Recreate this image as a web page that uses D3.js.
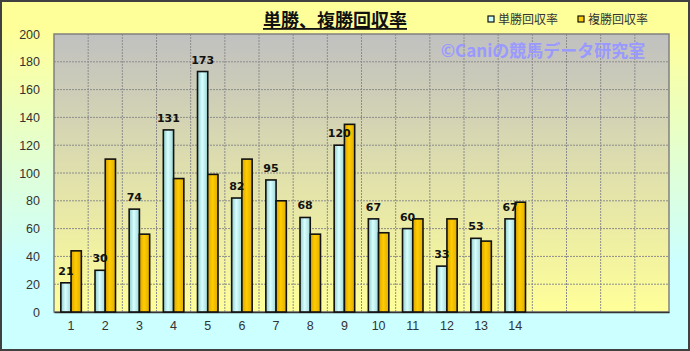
<!DOCTYPE html>
<html>
<head>
<meta charset="utf-8">
<script src="https://cdn.jsdelivr.net/npm/d3@7"></script>
<style>
  body { margin: 0; background: #fff; }
  svg text { font-family: "Noto Sans CJK JP", "Liberation Sans", sans-serif; }
</style>
</head>
<body>
<div id="grafico"></div>
<script>
// データ
const tickLabels = ["1","2","3","4","5","6","7","8","9","10","11","12","13","14","","","",""];
const tansho = [21, 30, 74, 131, 173, 82, 95, 68, 120, 67, 60, 33, 53, 67];
const fukusho = [44, 110, 56, 96, 99, 110, 80, 56, 135, 57, 67, 67, 51, 79];
const seriesNames = ["単勝回収率", "複勝回収率"];
const yTicks = [0, 20, 40, 60, 80, 100, 120, 140, 160, 180, 200];

const width = 690;
const height = 351;
const plot = { left: 54, top: 34, right: 669, bottom: 312 };

const svg = d3.select('#grafico')
    .append('svg')
    .attr('width', width)
    .attr('height', height);

const defs = svg.append('defs');

// 背景グラデーション
const bg = defs.append('linearGradient').attr('id', 'bg').attr('x1', 0).attr('y1', 0).attr('x2', 0).attr('y2', 1);
bg.append('stop').attr('offset', '8%').attr('stop-color', '#ffff99');
bg.append('stop').attr('offset', '75%').attr('stop-color', '#ccffff');

const pg = defs.append('linearGradient').attr('id', 'pg').attr('x1', 0).attr('y1', 0).attr('x2', 0).attr('y2', 1);
pg.append('stop').attr('offset', '0%').attr('stop-color', '#c0c0c0');
pg.append('stop').attr('offset', '100%').attr('stop-color', '#ffff99');

// 棒のグラデーション（横方向）
const cg = defs.append('linearGradient').attr('id', 'cg').attr('x1', 0).attr('y1', 0).attr('x2', 1).attr('y2', 0);
cg.append('stop').attr('offset', '0%').attr('stop-color', '#8fcaca');
cg.append('stop').attr('offset', '45%').attr('stop-color', '#d8ffff');
cg.append('stop').attr('offset', '100%').attr('stop-color', '#9fd6d6');

const gg = defs.append('linearGradient').attr('id', 'gg').attr('x1', 0).attr('y1', 0).attr('x2', 1).attr('y2', 0);
gg.append('stop').attr('offset', '0%').attr('stop-color', '#d9a300');
gg.append('stop').attr('offset', '45%').attr('stop-color', '#ffcc00');
gg.append('stop').attr('offset', '100%').attr('stop-color', '#e0ad00');

svg.append('rect')
    .attr('x', 1).attr('y', 1)
    .attr('width', width - 2).attr('height', height - 2)
    .attr('fill', 'url(#bg)')
    .attr('stroke', '#404040')
    .attr('stroke-width', 2);

svg.append('rect')
    .attr('x', plot.left).attr('y', plot.top)
    .attr('width', plot.right - plot.left).attr('height', plot.bottom - plot.top)
    .attr('fill', 'url(#pg)');

// スケール
const x = d3.scaleBand()
    .domain(d3.range(tickLabels.length))
    .range([plot.left, plot.right]);

const xs = d3.scaleBand()
    .domain([0, 1])
    .range([x.bandwidth() * 0.2, x.bandwidth() * 0.8]);

const y = d3.scaleLinear()
    .domain([0, 200])
    .range([plot.bottom, plot.top]);

// グリッド
svg.append('g')
    .selectAll('line')
    .data(yTicks.slice(1, -1))
    .enter()
    .append('line')
    .attr('x1', plot.left).attr('x2', plot.right)
    .attr('y1', d => y(d)).attr('y2', d => y(d))
    .attr('stroke', '#8c8c8c')
    .attr('stroke-dasharray', '2,1');

svg.append('g')
    .selectAll('line')
    .data(d3.range(1, tickLabels.length))
    .enter()
    .append('line')
    .attr('x1', d => x(d)).attr('x2', d => x(d))
    .attr('y1', plot.top).attr('y2', plot.bottom)
    .attr('stroke', '#8c8c8c')
    .attr('stroke-dasharray', '2,1');

svg.append('rect')
    .attr('x', plot.left).attr('y', plot.top)
    .attr('width', plot.right - plot.left).attr('height', plot.bottom - plot.top)
    .attr('fill', 'none')
    .attr('stroke', '#808080')
    .attr('stroke-width', 1.5);

// 軸
const yAxis = svg.append('g')
    .attr('transform', `translate(${plot.left},0)`)
    .call(d3.axisLeft(y).tickValues(yTicks).tickSize(0).tickPadding(14));
yAxis.select('.domain').remove();
yAxis.selectAll('text').style('font-size', '12.5px').style('fill', '#333')
    .style('font-family', '"Liberation Sans", sans-serif');

const xAxis = svg.append('g')
    .attr('transform', `translate(0,${plot.bottom})`)
    .call(d3.axisBottom(x).tickFormat(i => tickLabels[i]).tickSize(0).tickPadding(9));
xAxis.select('.domain').attr('stroke', '#333').attr('stroke-width', 1.5);
xAxis.selectAll('text').style('font-size', '12.5px').style('fill', '#333')
    .style('font-family', '"Liberation Sans", sans-serif');

// 棒
const rows = tansho.map((v, i) => ({ i: i, vals: [v, fukusho[i]] }));

const group = svg.selectAll('.cat')
    .data(rows)
    .enter()
    .append('g')
    .attr('class', 'cat')
    .attr('transform', d => `translate(${x(d.i)},0)`);

group.selectAll('rect')
    .data(d => d.vals.map((v, k) => ({ k: k, v: v })))
    .enter()
    .append('rect')
    .attr('x', d => xs(d.k))
    .attr('y', d => y(d.v))
    .attr('width', xs.bandwidth())
    .attr('height', d => y(0) - y(d.v))
    .attr('fill', d => d.k === 0 ? 'url(#cg)' : 'url(#gg)')
    .attr('stroke', '#111')
    .attr('stroke-width', 1.6);

// データラベル（単勝のみ）
group.append('text')
    .attr('x', xs(0) + xs.bandwidth() / 2)
    .attr('y', d => y(d.vals[0]) - 8)
    .attr('text-anchor', 'middle')
    .style('font-size', '11px')
    .style('font-weight', 'bold')
    .style('fill', '#111')
    .style('font-family', '"DejaVu Sans", sans-serif')
    .text(d => d.vals[0]);

// タイトル
svg.append('text')
    .attr('x', 335).attr('y', 27)
    .attr('text-anchor', 'middle')
    .style('font-size', '18px')
    .style('font-weight', 'bold')
    .style('text-decoration', 'underline')
    .style('fill', '#111')
    .text('単勝、複勝回収率');

// 透かし
svg.append('text')
    .attr('x', 543).attr('y', 57)
    .attr('text-anchor', 'middle')
    .style('font-size', '17px')
    .style('font-weight', 'bold')
    .style('fill', '#9999ff')
    .text('©Caniの競馬データ研究室');

// 凡例
const legend = svg.append('g');
const legendX = [488, 578];
legend.selectAll('rect')
    .data(seriesNames)
    .enter()
    .append('rect')
    .attr('x', (d, i) => legendX[i])
    .attr('y', 16)
    .attr('width', 6).attr('height', 6)
    .attr('fill', (d, i) => i === 0 ? '#ccffff' : '#ffcc00')
    .attr('stroke', '#111')
    .attr('stroke-width', 1.2);

legend.selectAll('text')
    .data(seriesNames)
    .enter()
    .append('text')
    .attr('x', (d, i) => legendX[i] + 10)
    .attr('y', 24)
    .style('font-size', '12px')
    .style('fill', '#333')
    .text(d => d);
</script>
</body>
</html>
